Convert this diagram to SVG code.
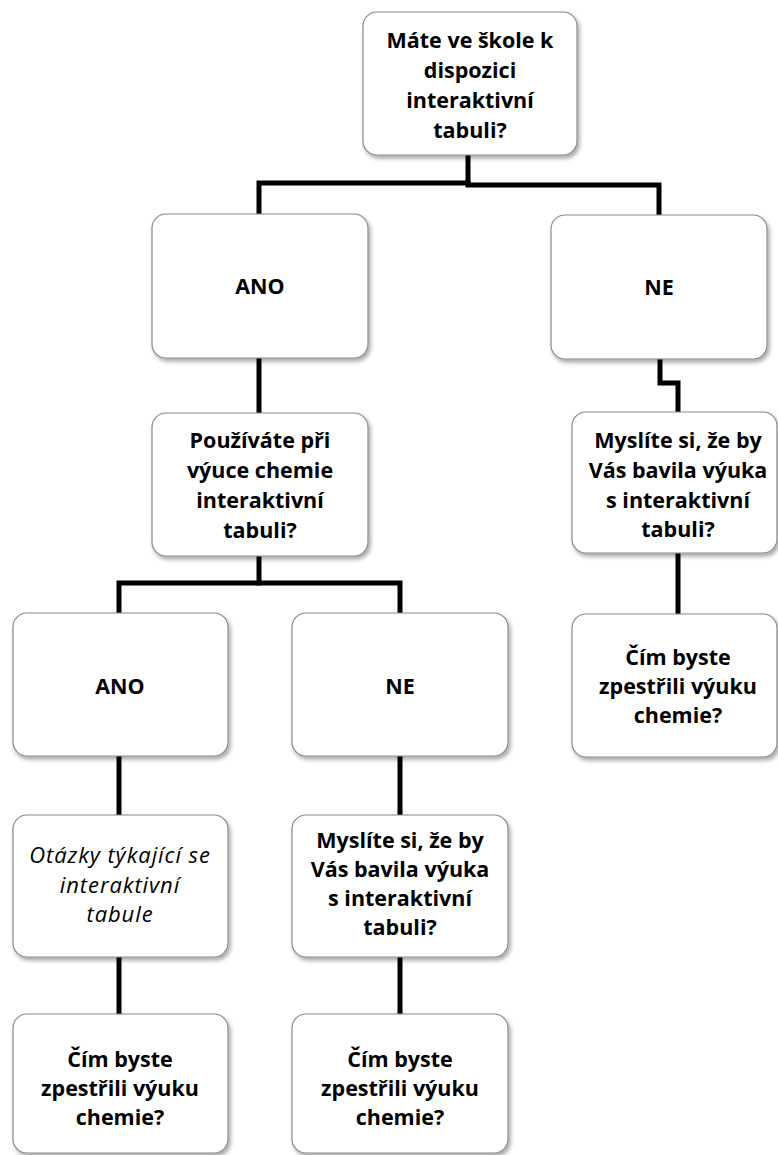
<svg xmlns="http://www.w3.org/2000/svg" width="778" height="1155" viewBox="0 0 778 1155">
  <defs>
    <filter id="shadow" x="-10%" y="-10%" width="125%" height="130%">
      <feDropShadow dx="2" dy="3" stdDeviation="2" flood-color="#000" flood-opacity="0.35"/>
    </filter>
  </defs>
  <style>
    .box { fill: #fff; stroke: #8a8a8a; stroke-width: 1.2; filter: url(#shadow); }
    .lbl { font-family: "Open Sans", "Liberation Sans", sans-serif; font-size: 21.5px; font-weight: bold; fill: #000; text-anchor: middle; }
    .it { font-family: "Open Sans", "Liberation Sans", sans-serif; font-size: 22px; letter-spacing: 0.9px; font-style: italic; fill: #000; text-anchor: middle; }
    .link { fill: none; stroke: #000; stroke-width: 5; stroke-linejoin: miter; stroke-linecap: square; }
  </style>
  <rect width="778" height="1155" fill="#fff"/>

  <!-- tree connectors -->
  <g id="connectors">
    <path class="link" d="M259,212 V183 H468"/>
    <path class="link" d="M468,157 V185 H659 V213"/>
    <path class="link" d="M259,360 V411"/>
    <path class="link" d="M660,361 V383 H678 V410"/>
    <path class="link" d="M259,558 V583"/>
    <path class="link" d="M119,611 V583 H400 V611"/>
    <path class="link" d="M678,555 V612"/>
    <path class="link" d="M119,758 V813"/>
    <path class="link" d="M400,758 V813"/>
    <path class="link" d="M119,959 V1012"/>
    <path class="link" d="M400,959 V1012"/>
  </g>

  <g id="q-board">
    <rect class="box" x="363" y="12" width="214" height="143" rx="14"/>
    <text class="lbl" x="470" y="48">Máte ve škole k</text>
    <text class="lbl" x="470" y="78">dispozici</text>
    <text class="lbl" x="470" y="108">interaktivní</text>
    <text class="lbl" x="470" y="138">tabuli?</text>
  </g>

  <g id="a-yes">
    <rect class="box" x="152" y="214" width="216" height="144" rx="14"/>
    <text class="lbl" x="260" y="294">ANO</text>
  </g>

  <g id="a-no">
    <rect class="box" x="551" y="215" width="216" height="144" rx="14"/>
    <text class="lbl" x="659" y="295">NE</text>
  </g>

  <g id="q-use">
    <rect class="box" x="152" y="413" width="216" height="143" rx="14"/>
    <text class="lbl" x="260" y="448">Používáte při</text>
    <text class="lbl" x="260" y="478">výuce chemie</text>
    <text class="lbl" x="260" y="508">interaktivní</text>
    <text class="lbl" x="260" y="538">tabuli?</text>
  </g>

  <g id="q-enjoy-right">
    <rect class="box" x="572" y="412" width="205" height="141" rx="14"/>
    <text class="lbl" x="678" y="448">Myslíte si, že by</text>
    <text class="lbl" x="678" y="478">Vás bavila výuka</text>
    <text class="lbl" x="678" y="508">s interaktivní</text>
    <text class="lbl" x="678" y="537">tabuli?</text>
  </g>

  <g id="use-yes">
    <rect class="box" x="13" y="613" width="215" height="143" rx="14"/>
    <text class="lbl" x="120" y="694">ANO</text>
  </g>

  <g id="use-no">
    <rect class="box" x="292" y="613" width="216" height="143" rx="14"/>
    <text class="lbl" x="400" y="694">NE</text>
  </g>

  <g id="q-vary-right">
    <rect class="box" x="572" y="614" width="205" height="143" rx="14"/>
    <text class="lbl" x="678" y="665">Čím byste</text>
    <text class="lbl" x="678" y="694">zpestřili výuku</text>
    <text class="lbl" x="678" y="723">chemie?</text>
  </g>

  <g id="board-questions">
    <rect class="box" x="13" y="815" width="215" height="142" rx="14"/>
    <text class="it" x="120" y="863">Otázky týkající se</text>
    <text class="it" x="120" y="893">interaktivní</text>
    <text class="it" x="120" y="922">tabule</text>
  </g>

  <g id="q-enjoy-mid">
    <rect class="box" x="292" y="815" width="216" height="142" rx="14"/>
    <text class="lbl" x="400" y="848">Myslíte si, že by</text>
    <text class="lbl" x="400" y="877">Vás bavila výuka</text>
    <text class="lbl" x="400" y="906">s interaktivní</text>
    <text class="lbl" x="400" y="935">tabuli?</text>
  </g>

  <g id="q-vary-left">
    <rect class="box" x="13" y="1014" width="215" height="139" rx="14"/>
    <text class="lbl" x="120" y="1067">Čím byste</text>
    <text class="lbl" x="120" y="1096">zpestřili výuku</text>
    <text class="lbl" x="120" y="1125">chemie?</text>
  </g>

  <g id="q-vary-mid">
    <rect class="box" x="292" y="1014" width="216" height="139" rx="14"/>
    <text class="lbl" x="400" y="1067">Čím byste</text>
    <text class="lbl" x="400" y="1096">zpestřili výuku</text>
    <text class="lbl" x="400" y="1125">chemie?</text>
  </g>
</svg>
